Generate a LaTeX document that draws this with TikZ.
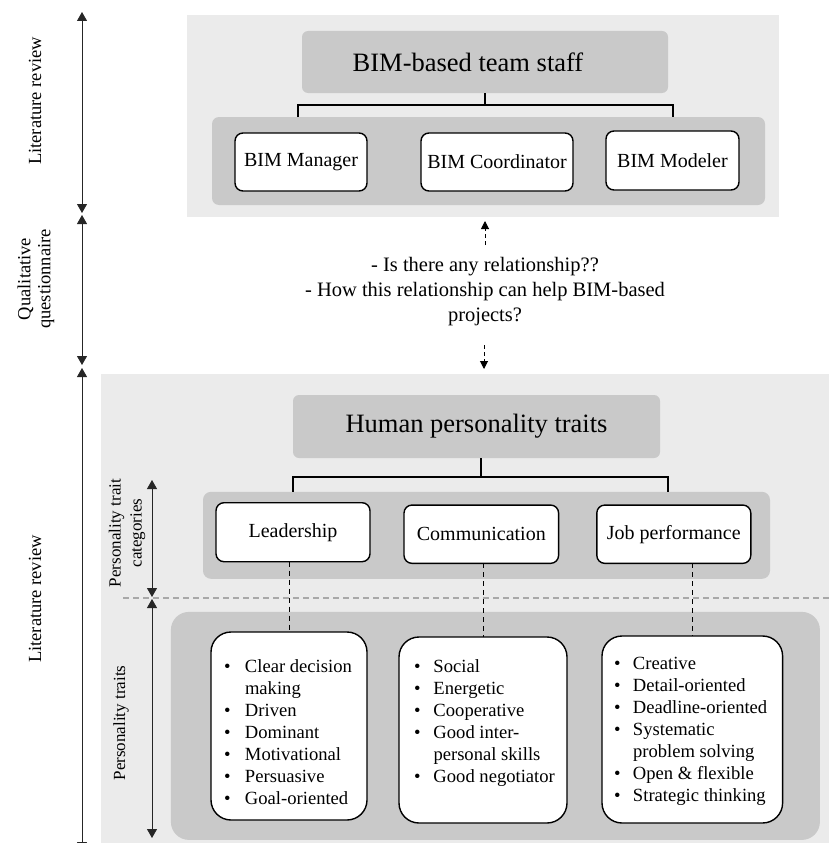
\documentclass[tikz,border=0pt]{standalone}
\usepackage{fontspec}
\setmainfont{Liberation Serif}
\usetikzlibrary{arrows.meta}
\definecolor{lightp}{HTML}{EBEBEB}
\definecolor{darkp}{HTML}{C9C9C9}
\definecolor{dashgray}{HTML}{A8A8A8}
\begin{document}
\begin{tikzpicture}[x=1pt,y=-1pt,
  panel/.style={draw=none, fill=#1, inner sep=0pt, outer sep=0pt},
  titlebox/.style={fill=darkp, draw=none, rounded corners=6pt, inner sep=0pt, outer sep=0pt, font=\fontsize{26.5}{30}\selectfont},
  whitebox/.style={fill=white, draw=black, line width=1.4pt, rounded corners=8pt, inner sep=0pt, outer sep=0pt, font=\fontsize{20}{24}\selectfont},
  listbox/.style={fill=white, draw=black, line width=1.4pt, rounded corners=20pt, inner sep=0pt, outer sep=0pt},
  listtext/.style={inner sep=0pt, outer sep=0pt, anchor=north west, font=\fontsize{18.6}{22}\selectfont},
  tree/.style={line width=1.5pt, draw=black},
  dconn/.style={line width=1pt, draw=black, dash pattern=on 5pt off 4pt},
  qarrow/.style={line width=1pt, draw=black, dash pattern=on 4pt off 3pt, -{Triangle[length=8pt,width=8pt]}},
  sidearrow/.style={line width=0.8pt, draw=black!85, {Triangle[length=9pt,width=10pt]}-{Triangle[length=9pt,width=10pt]}},
  sidelbl/.style={rotate=90, inner sep=0pt, font=\fontsize{18.5}{20}\selectfont},
  sidelbltwo/.style={rotate=90, inner sep=0pt, font=\fontsize{17}{21}\selectfont}
]
\useasboundingbox (0,0) rectangle (831,843);

% ---------- top section ----------
\node[panel=lightp, minimum width=592pt, minimum height=202pt] (topP) at (483,116) {};
\node[panel=darkp, rounded corners=7pt, minimum width=553pt, minimum height=88pt] (topIn) at (488.5,161) {};
\node[titlebox, minimum width=366pt, minimum height=62pt] (title1) at (485,62) {\hspace*{-34pt}BIM-based team staff};
\node[whitebox, minimum width=132pt, minimum height=58pt] (mgr) at (301,162) {BIM Manager};
\node[whitebox, minimum width=152pt, minimum height=58pt] (crd) at (497,162) {BIM Coordinator};
\node[whitebox, minimum width=133pt, minimum height=59pt] (mod) at (672.5,160.5) {BIM Modeler};

\coordinate (j1) at (485,105);
\coordinate (b1l) at (298,117);
\coordinate (b1r) at (673,117);
\draw[tree] (title1.south) -- (j1);
\draw[tree] (b1l) -- (b1l |- j1) -- (b1r |- j1) -- (b1r);

% ---------- question ----------
\node[inner sep=0pt, align=center, font=\fontsize{20.5}{25}\selectfont] (q) at (485,292)
  {- Is there any relationship??\\- How this relationship can help BIM-based\\projects?};
\coordinate (qa1) at (485,245);
\coordinate (qa2) at (484,345);
\draw[qarrow, shorten >=4pt] (qa1) -- (topP.south -| qa1);

% ---------- bottom section ----------
\node[panel=lightp, minimum width=728pt, minimum height=469pt] (botP) at (465,608.5) {};
\draw[qarrow, shorten >=5pt] (qa2) -- (botP.north -| qa2);
\node[panel=darkp, rounded corners=8pt, minimum width=567pt, minimum height=87pt] (catP) at (486.5,535.3) {};
\node[panel=darkp, rounded corners=18pt, minimum width=649pt, minimum height=228pt] (lstP) at (495.4,725.9) {};
\node[titlebox, minimum width=367pt, minimum height=63pt] (title2) at (476.5,426.5) {Human personality traits};

\node[whitebox, minimum width=154pt, minimum height=59pt] (lead) at (293,532.2) {Leadership};
\node[whitebox, minimum width=154.6pt, minimum height=58.3pt] (comm) at (481.3,534.2) {Communication};
\node[whitebox, minimum width=154pt, minimum height=58.3pt] (job) at (673.8,534.2) {Job performance};

\coordinate (j2) at (481,477);
\coordinate (b2l) at (293,491.5);
\coordinate (b2r) at (668,491.5);
\draw[tree] (j2 |- title2.south) -- (j2);
\draw[tree] (b2l) -- (b2l |- j2) -- (b2r |- j2) -- (b2r);

% gray dashed separator
\coordinate (sepL) at (123,598);
\coordinate (sepR) at (831,598);
\draw[dashgray, line width=1.2pt, dash pattern=on 6pt off 4pt] (sepL) -- (sepR);

% list boxes
\node[listbox, minimum width=156pt, minimum height=188pt] (lst1) at (289,726) {};
\node[listbox, minimum width=168pt, minimum height=186pt] (lst2) at (483,730) {};
\node[listbox, minimum width=180.6pt, minimum height=187pt] (lst3) at (692.3,729.5) {};

\draw[dconn] (lead.south -| lst1.north) -- (lst1.north);
\draw[dconn] (comm.south -| lst2.north) -- (lst2.north);
\draw[dconn] (job.south -| lst3.north) -- (lst3.north);

\node[listtext] (txt1) at (224,656.6) {\begin{tabular}{@{}l@{}l@{}}
\makebox[21pt][l]{•} & Clear decision\\
 & making\\
\makebox[21pt][l]{•} & Driven\\
\makebox[21pt][l]{•} & Dominant\\
\makebox[21pt][l]{•} & Motivational\\
\makebox[21pt][l]{•} & Persuasive\\
\makebox[21pt][l]{•} & Goal-oriented
\end{tabular}};
\node[listtext] (txt2) at (414,656.6) {\begin{tabular}{@{}l@{}l@{}}
\makebox[19.5pt][l]{•} & Social\\
\makebox[19.5pt][l]{•} & Energetic\\
\makebox[19.5pt][l]{•} & Cooperative\\
\makebox[19.5pt][l]{•} & Good inter-\\
 & personal skills\\
\makebox[19.5pt][l]{•} & Good negotiator
\end{tabular}};
\node[listtext] (txt3) at (614,653.6) {\begin{tabular}{@{}l@{}l@{}}
\makebox[19pt][l]{•} & Creative\\
\makebox[19pt][l]{•} & Detail-oriented\\
\makebox[19pt][l]{•} & Deadline-oriented\\
\makebox[19pt][l]{•} & Systematic\\
 & problem solving\\
\makebox[19pt][l]{•} & Open \& flexible\\
\makebox[19pt][l]{•} & Strategic thinking
\end{tabular}};

% ---------- left side arrows ----------
\coordinate (a1t) at (82,12);
\coordinate (a1b) at (82,213);
\coordinate (a2t) at (82,215);
\coordinate (a2b) at (82,365);
\coordinate (a3t) at (82,368);
\coordinate (a3b) at (82,851);
\draw[sidearrow] (a1t) -- (a1b);
\draw[sidearrow] (a2t) -- (a2b);
\draw[sidearrow] (a3t) -- (a3b);

\coordinate (i1t) at (152,480);
\coordinate (i1b) at (152,597);
\coordinate (i2t) at (152,599);
\coordinate (i2b) at (152,838);
\draw[sidearrow] (i1t) -- (i1b);
\draw[sidearrow] (i2t) -- (i2b);

\node[sidelbl] (lbl1) at (35,101) {Literature review};
\node[sidelbl, align=center] (lbl2) at (36,279) {Qualitative\\questionnaire};
\node[sidelbl] (lbl3) at (35,599) {Literature review};
\node[sidelbltwo, align=center] (lbl4) at (127,533) {Personality trait\\categories};
\node[sidelbltwo] (lbl5) at (121,723) {Personality traits};
\end{tikzpicture}
\end{document}
